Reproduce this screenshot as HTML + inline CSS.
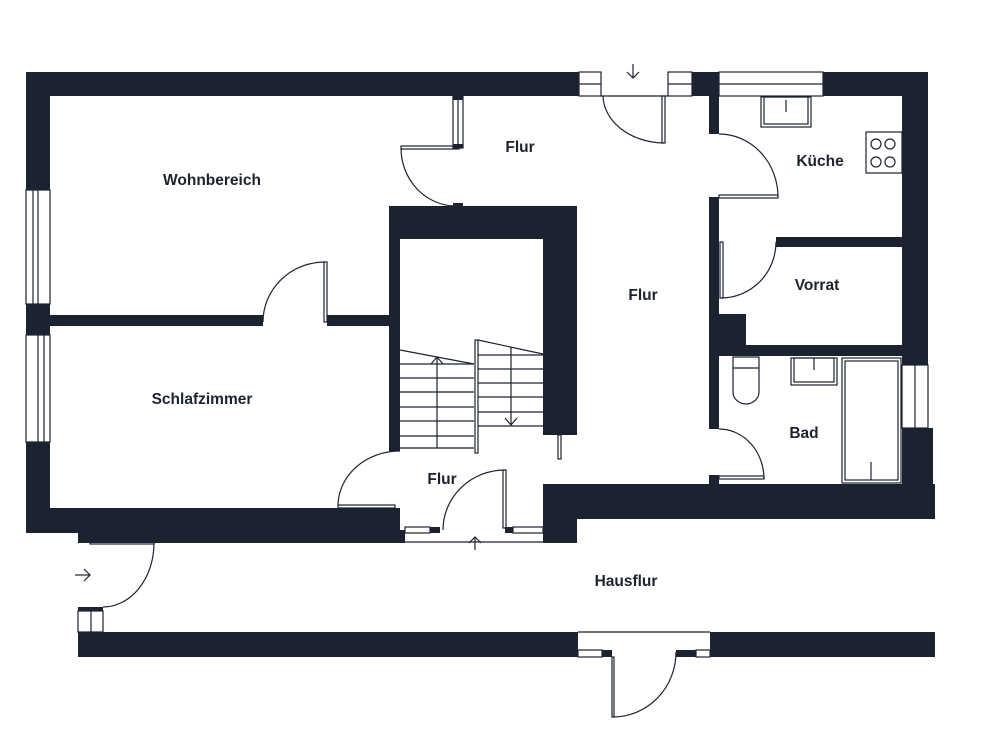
<!DOCTYPE html>
<html><head><meta charset="utf-8"><style>
html,body{margin:0;padding:0;background:#fff;}
svg{display:block}
text{font-family:"Liberation Sans",sans-serif;font-weight:bold;font-size:15.5px;fill:#1c2330;text-anchor:middle;dominant-baseline:middle}
</style></head><body>
<svg width="1000" height="750" viewBox="0 0 1000 750" xmlns="http://www.w3.org/2000/svg">
<g fill="#1c2330">
<rect x="26" y="72" width="553" height="24"/>
<rect x="692" y="72" width="27" height="24"/>
<rect x="709" y="72" width="10" height="62"/>
<rect x="823" y="72" width="105" height="24"/>
<rect x="902" y="72" width="26" height="293"/>
<rect x="902" y="428" width="31" height="60"/>
<rect x="26" y="72" width="24" height="118"/>
<rect x="26" y="304" width="24" height="31"/>
<rect x="26" y="442" width="24" height="91"/>
<rect x="50" y="315" width="213" height="11"/>
<rect x="327" y="315" width="62" height="11"/>
<rect x="389" y="206" width="188" height="33"/>
<rect x="389" y="206" width="11" height="245"/>
<rect x="543" y="206" width="34" height="229"/>
<rect x="26" y="508" width="374" height="25"/>
<rect x="78" y="530" width="327" height="13"/>
<rect x="543" y="484" width="34" height="59"/>
<rect x="543" y="484" width="392" height="35"/>
<rect x="709" y="197" width="10" height="232"/>
<rect x="776" y="237" width="126" height="10"/>
<rect x="719" y="314" width="27" height="42"/>
<rect x="719" y="345" width="183" height="11"/>
<rect x="709" y="475" width="10" height="12"/>
<rect x="78" y="632" width="500" height="25"/>
<rect x="710" y="632" width="225" height="25"/>
<rect x="602" y="650" width="10" height="7"/>
<rect x="676" y="650" width="20" height="7"/>
<rect x="78" y="607" width="25" height="4"/>
<rect x="453" y="96" width="10" height="4"/>
<rect x="453" y="144" width="10" height="4"/>
<rect x="453" y="203" width="10" height="4"/>
<rect x="430" y="527" width="10" height="6"/>
<rect x="505" y="527" width="8" height="6"/>
</g>
<g fill="none" stroke="#1c2330" stroke-width="1.2">
<rect x="26" y="190" width="24" height="114"/><line x1="38" y1="190" x2="38" y2="304"/><line x1="33" y1="190" x2="33" y2="304"/>
<rect x="26" y="335" width="24" height="107"/><line x1="38" y1="335" x2="38" y2="442"/><line x1="44" y1="335" x2="44" y2="442"/>
<rect x="579" y="72" width="22" height="24"/><line x1="579" y1="84" x2="601" y2="84"/>
<rect x="668" y="72" width="24" height="24"/><line x1="668" y1="84" x2="692" y2="84"/>
<rect x="719" y="72" width="104" height="24"/><line x1="719" y1="84" x2="823" y2="84"/>
<rect x="902" y="365" width="26" height="63"/><line x1="915" y1="365" x2="915" y2="428"/>
<rect x="453" y="96" width="10" height="52"/><line x1="458" y1="96" x2="458" y2="148"/>
<rect x="78" y="611" width="25" height="21"/><line x1="91" y1="611" x2="91" y2="632"/>
<line x1="578" y1="632" x2="710" y2="632"/>
<rect x="578" y="650" width="24" height="7"/><rect x="696" y="650" width="14" height="7"/>
<line x1="405" y1="542" x2="543" y2="542"/>
<rect x="405" y="527" width="25" height="6"/><rect x="513" y="527" width="30" height="6"/>
<line x1="601" y1="96" x2="668" y2="96"/>
<rect x="662" y="96" width="3" height="47"/><path d="M603 96 A62 48 0 0 0 664 143"/>
<rect x="401" y="146" width="58" height="3"/><path d="M401 148 A55 58 0 0 0 455 206"/>
<rect x="719" y="195" width="59" height="3"/><path d="M719 134 A59 63 0 0 1 778 197"/>
<rect x="720" y="242" width="3" height="56"/><path d="M776 242 A55 56 0 0 1 721 298"/>
<rect x="719" y="476" width="45" height="3"/><path d="M719 429 A45 50 0 0 1 764 479"/>
<rect x="324" y="262" width="3" height="60"/><path d="M263 322 A62 60 0 0 1 325 262"/>
<rect x="338" y="505" width="57" height="3"/><path d="M338 506 A62 55 0 0 1 400 451"/>
<rect x="503" y="470" width="3" height="58"/><path d="M443 530 A62 60 0 0 1 505 470"/>
<rect x="90" y="541" width="64" height="3"/><path d="M154 543 A51 64 0 0 1 103 607"/>
<rect x="612" y="657" width="2" height="60"/><path d="M613 717 A63 65 0 0 0 676 652"/>
<rect x="558" y="435" width="3" height="24"/>
<line x1="400" y1="350" x2="474" y2="364"/>
<line x1="400" y1="378" x2="474" y2="378"/><line x1="400" y1="392" x2="474" y2="392"/><line x1="400" y1="407" x2="474" y2="407"/><line x1="400" y1="421" x2="474" y2="421"/><line x1="400" y1="436" x2="474" y2="436"/><line x1="400" y1="448" x2="474" y2="448"/>
<line x1="400" y1="364" x2="474" y2="364"/>
<line x1="437" y1="357" x2="437" y2="448"/><path d="M431 364 L437 357 L443 364"/>
<rect x="475" y="340" width="3" height="113"/>
<line x1="478" y1="340" x2="543" y2="354"/>
<line x1="478" y1="355" x2="543" y2="355"/><line x1="478" y1="369" x2="543" y2="369"/><line x1="478" y1="383" x2="543" y2="383"/><line x1="478" y1="397" x2="543" y2="397"/><line x1="478" y1="412" x2="543" y2="412"/><line x1="478" y1="426" x2="543" y2="426"/>
<line x1="511" y1="347" x2="511" y2="425"/><path d="M505 418 L511 425 L517 418"/>
<line x1="633" y1="64" x2="633" y2="78"/><path d="M627 72 L633 78 L639 72"/>
<line x1="475" y1="537" x2="475" y2="550"/><path d="M469 543 L475 537 L481 543"/>
<line x1="75" y1="575" x2="90" y2="575"/><path d="M84 569 L90 575 L84 581"/>
<rect x="761" y="97" width="50" height="30"/><rect x="764" y="97" width="44" height="27"/><line x1="786" y1="100" x2="786" y2="112"/>
<rect x="866" y="132" width="36" height="41"/>
<circle cx="876" cy="144" r="5"/><circle cx="890" cy="144" r="5"/><circle cx="876" cy="162" r="5"/><circle cx="890" cy="162" r="5"/>
<rect x="791" y="358" width="46" height="27"/><rect x="794" y="358" width="40" height="24"/><line x1="814" y1="358" x2="814" y2="370"/>
<path d="M733 357 H759 V392 A13 12 0 0 1 733 392 Z"/><line x1="733" y1="368" x2="759" y2="368"/>
<rect x="842" y="358" width="59" height="125"/><rect x="845" y="361" width="53" height="119"/><line x1="871" y1="462" x2="871" y2="480"/>
</g>
<text x="212" y="181">Wohnbereich</text>
<text x="520" y="148">Flur</text>
<text x="820" y="162">Küche</text>
<text x="643" y="296">Flur</text>
<text x="817" y="286">Vorrat</text>
<text x="202" y="400">Schlafzimmer</text>
<text x="804" y="434">Bad</text>
<text x="442" y="480">Flur</text>
<text x="626" y="582">Hausflur</text>
</svg>
</body></html>
